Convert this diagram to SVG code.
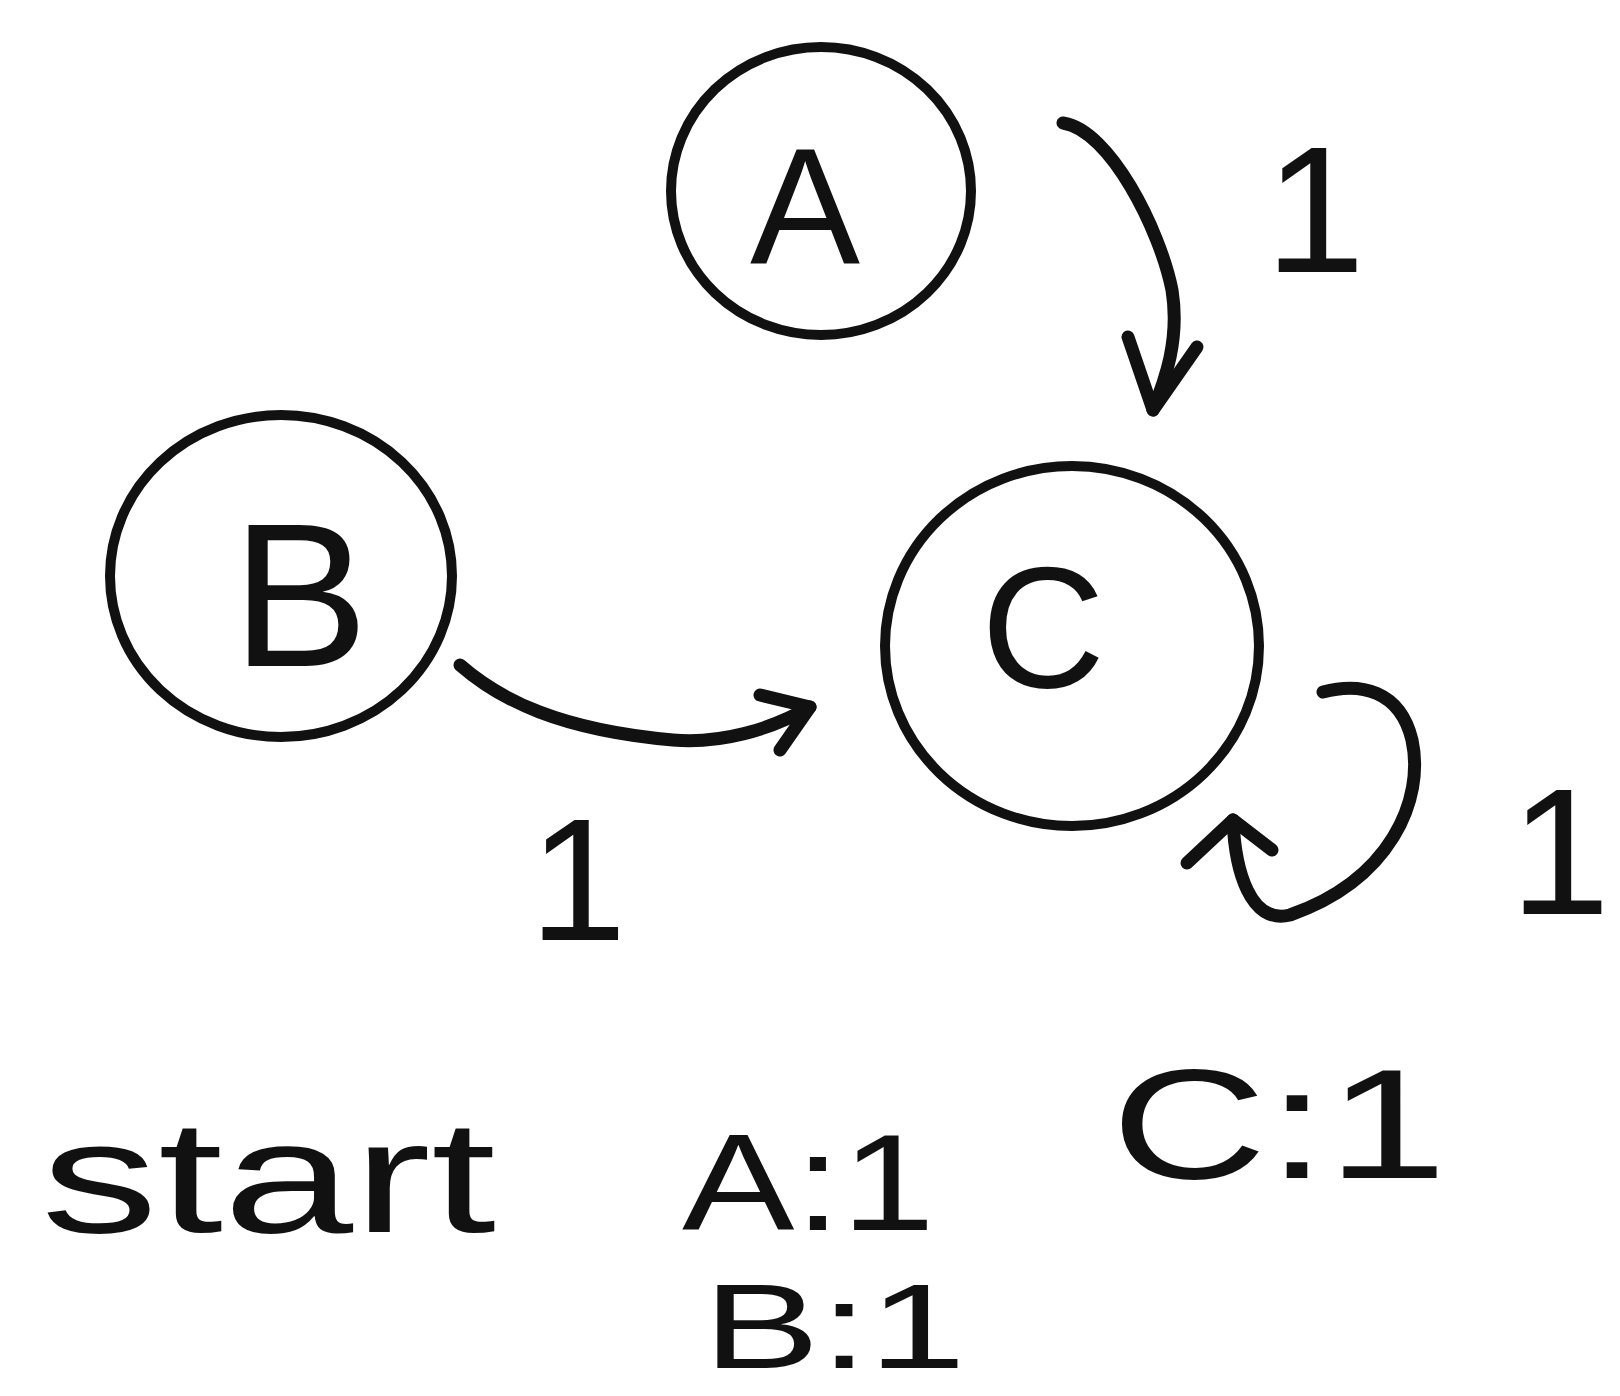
<svg xmlns="http://www.w3.org/2000/svg" width="1620" height="1396" viewBox="0 0 1620 1396">
<style>
.node{fill:none;stroke:#111;stroke-width:10}
.edge{fill:none;stroke:#111;stroke-width:13;stroke-linecap:round;stroke-linejoin:round}
text{font-family:"Liberation Sans",Arial,sans-serif;fill:#111}
.lbl{text-anchor:middle}
</style>
<rect width="1620" height="1396" fill="#fff"/>
<g id="node-A">
<ellipse class="node" cx="821" cy="191" rx="150" ry="144"/>
<text class="lbl" x="805" y="263" font-size="165">A</text>
</g>
<g id="node-B">
<ellipse class="node" cx="281" cy="576" rx="171" ry="161"/>
<text class="lbl" x="300" y="666" font-size="205">B</text>
</g>
<g id="node-C">
<ellipse class="node" cx="1072" cy="646" rx="187" ry="180"/>
<text class="lbl" x="1043" y="687" font-size="172">C</text>
</g>
<g id="connectors">
<path class="edge" d="M1063,123 C1110,130 1160,230 1172,290 C1180,340 1165,380 1153,410"/>
<path class="edge" d="M1128,337 L1153,410 L1197,347"/>
<path class="edge" d="M460,665 C500,700 560,730 673,740 C720,744 770,730 810,707"/>
<path class="edge" d="M760,695 L810,707 L780,750"/>
<path class="edge" d="M1323,692 C1360,682 1400,690 1412,740 C1425,800 1390,880 1290,915 C1250,925 1235,870 1233,820"/>
<path class="edge" d="M1187,863 L1233,820 L1272,850"/>
</g>
<g id="labels">
<text class="lbl" x="1315" y="272" font-size="180">1</text>
<text class="lbl" x="578" y="940" font-size="175">1</text>
<text class="lbl" x="1560" y="914" font-size="180">1</text>
</g>
<g id="notes">
<text x="41" y="1232" font-size="160" textLength="455" lengthAdjust="spacingAndGlyphs">start</text>
<text x="682" y="1230" font-size="138" textLength="253" lengthAdjust="spacingAndGlyphs">A:1</text>
<text x="1111" y="1178" font-size="155" textLength="336" lengthAdjust="spacingAndGlyphs">C:1</text>
<text x="703" y="1368" font-size="120" textLength="263" lengthAdjust="spacingAndGlyphs">B:1</text>
</g>
</svg>
